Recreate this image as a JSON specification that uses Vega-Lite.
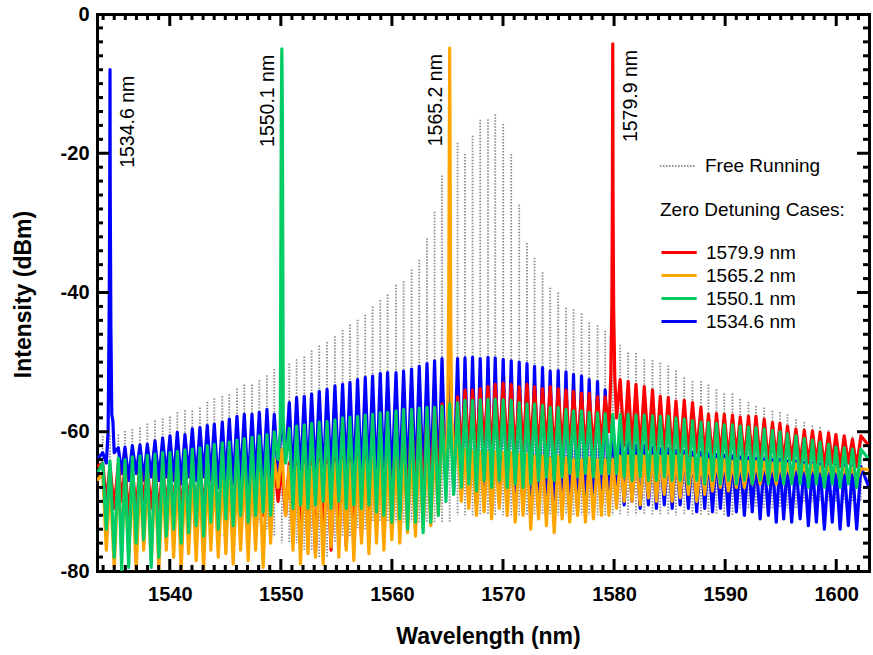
{
"$schema":"https://vega.github.io/schema/vega-lite/v6.json",
"width":772,"height":557,
"autosize":{"type":"none"},
"padding":{"left":97,"top":14,"right":4,"bottom":84},
"background":"white",
"config":{
"font":"Liberation Sans",
"view":{"stroke":null},
"axis":{"domainWidth":3,"domainColor":"#000","domainCap":"square","grid":false,"zindex":1,"labelFont":"Liberation Sans","titleFont":"Liberation Sans","labelOverlap":false,"labelFlush":false,"labelColor":"#000","titleColor":"#000"},
"legend":{"labelFont":"Liberation Sans","titleFont":"Liberation Sans","labelColor":"#000","titleColor":"#000","padding":0,"labelFontSize":19,"symbolSize":484,"rowPadding":0,"labelLimit":300,"titleLimit":400}
},
"resolve":{"axis":{"x":"independent","y":"independent"}},
"data":{"name":"spec"},
"datasets":{
"spec":[
{"x":1533.45,"b":-64,"r":-65,"o":-67,"g":-66},
{"x":1533.96,"f":-60.6,"fb":-68,"b":-63,"r":-64.5,"o":-66,"g":-64.5},
{"x":1534.29,"b":-64.5,"r":-70,"o":-77,"g":-74},
{"x":1534.45,"b":-60},
{"x":1534.55,"b":-42},
{"x":1534.60,"b":-25},
{"x":1534.62,"f":-60.5,"fb":-68,"b":-8,"r":-64.8,"o":-67,"g":-64.2},
{"x":1534.64,"b":-25},
{"x":1534.70,"b":-45},
{"x":1534.78,"b":-57.5},
{"x":1534.88,"b":-58.5},
{"x":1535.00,"b":-63,"r":-71,"o":-79.5,"g":-78},
{"x":1535.37,"f":-60.4,"fb":-70,"b":-62.3,"r":-64.5,"o":-66,"g":-63.8},
{"x":1535.67,"b":-66,"r":-70,"o":-76,"g":-79.8},
{"x":1535.97,"f":-59.9,"fb":-70,"b":-62.2,"r":-65,"o":-67,"g":-64},
{"x":1536.30,"b":-67,"r":-72,"o":-78,"g":-79.5},
{"x":1536.63,"f":-59.6,"fb":-70,"b":-62,"r":-65.5,"o":-66.5,"g":-63.6},
{"x":1536.98,"b":-66,"r":-71,"o":-80,"g":-76},
{"x":1537.32,"f":-59.4,"fb":-70,"b":-61.9,"r":-64.8,"o":-66,"g":-63.5},
{"x":1537.65,"b":-67,"r":-70,"o":-77,"g":-75.5},
{"x":1537.98,"f":-58.8,"fb":-70,"b":-61.8,"r":-65.2,"o":-66.8,"g":-63.4},
{"x":1538.33,"b":-66.5,"r":-71,"o":-78.5,"g":-79.5},
{"x":1538.67,"f":-58.4,"fb":-70,"b":-61.3,"r":-65,"o":-66,"g":-63.2},
{"x":1539.02,"b":-67,"r":-72,"o":-79.8,"g":-78},
{"x":1539.36,"f":-58.1,"fb":-70,"b":-60.9,"r":-64.6,"o":-66.5,"g":-63},
{"x":1539.69,"b":-66.5,"r":-71,"o":-77,"g":-75},
{"x":1540.02,"f":-57.8,"fb":-70,"b":-60.6,"r":-65,"o":-67,"g":-63},
{"x":1540.35,"b":-67,"r":-70.5,"o":-78,"g":-74},
{"x":1540.68,"f":-57.2,"fb":-70,"b":-60.1,"r":-64.8,"o":-66,"g":-62.8},
{"x":1541.03,"b":-67.5,"r":-71,"o":-79.8,"g":-76},
{"x":1541.37,"f":-56.9,"fb":-70,"b":-60.4,"r":-65.2,"o":-66.4,"g":-62.6},
{"x":1541.70,"b":-66.5,"r":-70,"o":-77.5,"g":-74.5},
{"x":1542.03,"f":-57,"fb":-70,"b":-59.6,"r":-65,"o":-66,"g":-62.5},
{"x":1542.38,"b":-67,"r":-71.5,"o":-78.5,"g":-73.5},
{"x":1542.72,"f":-56.5,"fb":-70,"b":-59.4,"r":-64.5,"o":-66.5,"g":-62.3},
{"x":1543.05,"b":-66.5,"r":-71,"o":-80,"g":-75},
{"x":1543.38,"f":-55.7,"fb":-70,"b":-59.1,"r":-65,"o":-65.8,"g":-62},
{"x":1543.70,"b":-67,"r":-70.5,"o":-77,"g":-73},
{"x":1544.01,"f":-55.2,"fb":-70,"b":-58.9,"r":-64.8,"o":-66,"g":-61.8},
{"x":1544.37,"b":-68,"r":-72,"o":-78,"g":-74},
{"x":1544.73,"f":-54.9,"fb":-70,"b":-58.6,"r":-65,"o":-66.2,"g":-61.6},
{"x":1545.05,"b":-67,"r":-71,"o":-77.5,"g":-72.5},
{"x":1545.36,"f":-54.6,"fb":-70,"b":-58.2,"r":-64.6,"o":-65.8,"g":-61.5},
{"x":1545.71,"b":-67.5,"r":-71.5,"o":-79,"g":-73.5},
{"x":1546.05,"f":-53.8,"fb":-71,"b":-57.8,"r":-65,"o":-66,"g":-61.2},
{"x":1546.38,"b":-67,"r":-71,"o":-77,"g":-72},
{"x":1546.71,"f":-53.2,"fb":-71,"b":-57.5,"r":-64.8,"o":-65.5,"g":-61},
{"x":1547.06,"b":-68,"r":-72,"o":-78.5,"g":-73},
{"x":1547.40,"f":-53.2,"fb":-72,"b":-57.5,"r":-64.5,"o":-66,"g":-60.8},
{"x":1547.73,"b":-67,"r":-71.5,"o":-77,"g":-72},
{"x":1548.06,"f":-52.6,"fb":-73,"b":-57.2,"r":-64.8,"o":-65.6,"g":-60.6},
{"x":1548.41,"b":-67.5,"r":-72,"o":-79.5,"g":-71.5},
{"x":1548.75,"f":-51.9,"fb":-74,"b":-56.8,"r":-64.2,"o":-65,"g":-60.4},
{"x":1549.08,"b":-67,"r":-71,"o":-76,"g":-72},
{"x":1549.41,"f":-51,"fb":-75,"b":-57.5,"r":-64,"o":-64,"g":-60},
{"x":1549.75,"b":-66,"r":-70,"o":-68,"g":-64},
{"x":1549.95,"g":-60},
{"x":1550.04,"g":-14.2},
{"x":1550.09,"f":-50.5,"fb":-76,"b":-57.5,"r":-65,"o":-62.5,"g":-5},
{"x":1550.14,"g":-14.2},
{"x":1550.22,"g":-58},
{"x":1550.30,"g":-61},
{"x":1550.43,"b":-64,"r":-72,"o":-72,"g":-64.5},
{"x":1550.76,"f":-50.2,"fb":-76,"b":-55.8,"r":-64.5,"o":-65,"g":-59.5},
{"x":1551.09,"b":-67,"r":-73,"o":-77,"g":-71},
{"x":1551.42,"f":-49.6,"fb":-76,"b":-55.1,"r":-64,"o":-65,"g":-59.2},
{"x":1551.77,"b":-66.5,"r":-74,"o":-79,"g":-70.5},
{"x":1552.11,"f":-49.2,"fb":-77,"b":-54.9,"r":-64.5,"o":-64.8,"g":-59},
{"x":1552.44,"b":-67,"r":-76,"o":-77.5,"g":-71},
{"x":1552.77,"f":-48.3,"fb":-77,"b":-54.6,"r":-64,"o":-65,"g":-58.8},
{"x":1553.12,"b":-66.5,"r":-77.5,"o":-78,"g":-70.5},
{"x":1553.46,"f":-47.6,"fb":-78,"b":-54.2,"r":-63.8,"o":-64.5,"g":-58.6},
{"x":1553.81,"b":-67,"r":-75,"o":-79,"g":-70},
{"x":1554.16,"f":-47.1,"fb":-78,"b":-53.9,"r":-63.5,"o":-64.8,"g":-58.5},
{"x":1554.52,"b":-66.5,"r":-77,"o":-76.5,"g":-71},
{"x":1554.87,"f":-46.3,"fb":-76,"b":-53.4,"r":-63.5,"o":-64.5,"g":-58.3},
{"x":1555.22,"b":-67,"r":-75.5,"o":-78,"g":-70},
{"x":1555.56,"f":-45.4,"fb":-75,"b":-53.2,"r":-63,"o":-64.2,"g":-58},
{"x":1555.89,"b":-66.5,"r":-76.5,"o":-77,"g":-71},
{"x":1556.22,"f":-44.6,"fb":-75,"b":-52.9,"r":-62.8,"o":-64.5,"g":-57.9},
{"x":1556.57,"b":-67,"r":-74,"o":-78.5,"g":-70.5},
{"x":1556.91,"f":-43.9,"fb":-74,"b":-52.5,"r":-62.5,"o":-64,"g":-57.8},
{"x":1557.26,"b":-67.5,"r":-75,"o":-76,"g":-71},
{"x":1557.60,"f":-43.2,"fb":-74,"b":-52.2,"r":-62,"o":-64.2,"g":-57.6},
{"x":1557.93,"b":-67,"r":-73,"o":-77.5,"g":-70.5},
{"x":1558.26,"f":-42,"fb":-73,"b":-52,"r":-61.5,"o":-63.8,"g":-57.5},
{"x":1558.61,"b":-67.5,"r":-72,"o":-76,"g":-71.5},
{"x":1558.95,"f":-41.1,"fb":-73,"b":-51.6,"r":-61,"o":-64,"g":-57.3},
{"x":1559.28,"b":-67,"r":-71.5,"o":-77,"g":-72},
{"x":1559.61,"f":-40.3,"fb":-73,"b":-51.5,"r":-60.5,"o":-63.5,"g":-57.2},
{"x":1559.99,"b":-67.5,"r":-71,"o":-75.5,"g":-73},
{"x":1560.37,"f":-38.9,"fb":-73,"b":-51.5,"r":-59.5,"o":-63.5,"g":-57},
{"x":1560.71,"b":-68,"r":-70,"o":-76,"g":-72.5},
{"x":1561.05,"f":-38.4,"fb":-73,"b":-51.3,"r":-58.8,"o":-63.2,"g":-56.8},
{"x":1561.41,"b":-67.5,"r":-70.5,"o":-74.5,"g":-74},
{"x":1561.77,"f":-36.7,"fb":-73,"b":-51,"r":-58,"o":-63,"g":-56.8},
{"x":1562.12,"b":-68,"r":-69.5,"o":-75,"g":-73},
{"x":1562.46,"f":-35.3,"fb":-73,"b":-50.6,"r":-57.5,"o":-62.8,"g":-56.6},
{"x":1562.81,"b":-67.5,"r":-70,"o":-74,"g":-74.5},
{"x":1563.16,"f":-32.2,"fb":-73,"b":-50.2,"r":-57.2,"o":-62.5,"g":-56.5},
{"x":1563.50,"b":-68,"r":-69,"o":-73.5,"g":-73},
{"x":1563.84,"f":-28.4,"fb":-73,"b":-49.8,"r":-56.5,"o":-62,"g":-56.5},
{"x":1564.18,"b":-68,"r":-68.5,"o":-72,"g":-72},
{"x":1564.51,"f":-23.2,"fb":-73,"b":-49.5,"r":-56,"o":-60,"g":-56.3},
{"x":1564.86,"b":-68,"r":-67,"o":-66,"g":-70},
{"x":1565.02,"o":-58},
{"x":1565.12,"o":-40},
{"x":1565.16,"o":-21},
{"x":1565.20,"f":-21,"fb":-73,"b":-50,"r":-56.5,"o":-4.9,"g":-56},
{"x":1565.24,"o":-21},
{"x":1565.30,"o":-45},
{"x":1565.38,"o":-58},
{"x":1565.56,"b":-68.5,"r":-66,"o":-64,"g":-69},
{"x":1565.91,"f":-18.5,"fb":-72,"b":-49.5,"r":-55,"o":-62,"g":-55.8},
{"x":1566.25,"b":-69,"r":-63,"o":-70,"g":-68},
{"x":1566.58,"f":-20.1,"fb":-72,"b":-49.4,"r":-54,"o":-62.5,"g":-55.5},
{"x":1566.92,"b":-69.5,"r":-62.5,"o":-71,"g":-67.5},
{"x":1567.26,"f":-17.5,"fb":-72,"b":-49.3,"r":-54,"o":-62.8,"g":-55.5},
{"x":1567.61,"b":-69,"r":-63,"o":-72,"g":-68.5},
{"x":1567.95,"f":-15.2,"fb":-72,"b":-49.5,"r":-53.8,"o":-63,"g":-55.4},
{"x":1568.30,"b":-70,"r":-62,"o":-71.5,"g":-67},
{"x":1568.65,"f":-15.1,"fb":-72,"b":-49.3,"r":-53.5,"o":-63,"g":-55.3},
{"x":1568.98,"b":-69.5,"r":-63.5,"o":-72.5,"g":-68},
{"x":1569.30,"f":-14.4,"fb":-72,"b":-49.4,"r":-53.2,"o":-62.8,"g":-55.3},
{"x":1569.66,"b":-70,"r":-62.5,"o":-71,"g":-67},
{"x":1570.02,"f":-15.8,"fb":-72,"b":-49.6,"r":-53,"o":-63,"g":-55.4},
{"x":1570.38,"b":-70.5,"r":-63,"o":-72,"g":-68},
{"x":1570.74,"f":-20.1,"fb":-72,"b":-49.8,"r":-53.2,"o":-63,"g":-55.5},
{"x":1571.10,"b":-71,"r":-63.5,"o":-73,"g":-67.5},
{"x":1571.46,"f":-27.4,"fb":-72,"b":-50,"r":-53.5,"o":-63.2,"g":-55.8},
{"x":1571.81,"b":-70.5,"r":-63,"o":-72,"g":-68},
{"x":1572.16,"f":-32.9,"fb":-72,"b":-50.2,"r":-53.2,"o":-63.2,"g":-56},
{"x":1572.50,"b":-71.5,"r":-62.5,"o":-74,"g":-67.5},
{"x":1572.84,"f":-35,"fb":-72,"b":-50.6,"r":-53.5,"o":-63.5,"g":-56},
{"x":1573.20,"b":-71,"r":-63,"o":-72.5,"g":-67},
{"x":1573.56,"f":-37.1,"fb":-72,"b":-50.8,"r":-53.8,"o":-63.5,"g":-56.2},
{"x":1573.91,"b":-70.5,"r":-62.5,"o":-73.5,"g":-66.5},
{"x":1574.25,"f":-39.3,"fb":-72,"b":-51.3,"r":-53.5,"o":-63.8,"g":-56.5},
{"x":1574.61,"b":-71,"r":-63.5,"o":-74.5,"g":-67},
{"x":1574.97,"f":-40,"fb":-72,"b":-51.2,"r":-53.8,"o":-63.5,"g":-56.5},
{"x":1575.32,"b":-71.5,"r":-62.5,"o":-72.5,"g":-66.5},
{"x":1575.67,"f":-42.2,"fb":-72,"b":-51.4,"r":-54,"o":-63.8,"g":-56.8},
{"x":1576.01,"b":-70.5,"r":-63,"o":-73,"g":-66},
{"x":1576.35,"f":-42.4,"fb":-72,"b":-51.8,"r":-54.2,"o":-64,"g":-57},
{"x":1576.71,"b":-71,"r":-62.5,"o":-72,"g":-66.5},
{"x":1577.07,"f":-43,"fb":-72,"b":-52,"r":-54.5,"o":-64,"g":-57},
{"x":1577.42,"b":-70.5,"r":-63,"o":-73,"g":-66},
{"x":1577.76,"f":-44.3,"fb":-72,"b":-52.5,"r":-54.5,"o":-63.8,"g":-57.2},
{"x":1578.14,"b":-71,"r":-62.5,"o":-72.5,"g":-66.5},
{"x":1578.51,"f":-44.7,"fb":-72,"b":-52.8,"r":-55,"o":-64,"g":-57.3},
{"x":1578.86,"b":-70.5,"r":-62,"o":-72,"g":-66},
{"x":1579.20,"f":-45.5,"fb":-72,"b":-54,"r":-55,"o":-64,"g":-57.4},
{"x":1579.54,"b":-70,"r":-60,"o":-72,"g":-66},
{"x":1579.70,"r":-52},
{"x":1579.80,"r":-42},
{"x":1579.85,"r":-27},
{"x":1579.88,"f":-46.5,"fb":-72,"b":-58,"r":-4.3,"o":-64,"g":-57.5},
{"x":1579.91,"r":-27},
{"x":1579.96,"r":-42},
{"x":1580.06,"r":-52},
{"x":1580.22,"b":-70,"r":-58,"o":-71,"g":-66},
{"x":1580.55,"f":-47.5,"fb":-72,"b":-61,"r":-52.5,"o":-63.5,"g":-57.5},
{"x":1580.91,"b":-70.5,"r":-62,"o":-70,"g":-66.5},
{"x":1581.27,"f":-48.6,"fb":-72,"b":-61.5,"r":-52.8,"o":-63.5,"g":-57.5},
{"x":1581.62,"b":-70,"r":-62.5,"o":-70,"g":-67},
{"x":1581.97,"f":-48.7,"fb":-72,"b":-62,"r":-53.2,"o":-63.5,"g":-57.6},
{"x":1582.35,"b":-71,"r":-63,"o":-70.5,"g":-66.5},
{"x":1582.72,"f":-49.6,"fb":-72,"b":-62,"r":-53.5,"o":-63.5,"g":-57.6},
{"x":1583.09,"b":-70.5,"r":-62.5,"o":-69.5,"g":-67},
{"x":1583.46,"f":-49.7,"fb":-72,"b":-62.3,"r":-54,"o":-63.5,"g":-57.7},
{"x":1583.81,"b":-71,"r":-63,"o":-70,"g":-67},
{"x":1584.16,"f":-50.1,"fb":-72,"b":-62.5,"r":-54.9,"o":-63.5,"g":-57.8},
{"x":1584.52,"b":-70.5,"r":-63,"o":-69,"g":-66.5},
{"x":1584.88,"f":-50.5,"fb":-72,"b":-62.5,"r":-55.1,"o":-63.5,"g":-57.8},
{"x":1585.23,"b":-71,"r":-63.5,"o":-70,"g":-67},
{"x":1585.57,"f":-51.2,"fb":-72,"b":-62.7,"r":-55.6,"o":-63.5,"g":-58},
{"x":1585.95,"b":-70.5,"r":-63,"o":-69.5,"g":-67},
{"x":1586.32,"f":-52.2,"fb":-72,"b":-62.8,"r":-55.5,"o":-63.5,"g":-58.2},
{"x":1586.69,"b":-71,"r":-63.5,"o":-69,"g":-67.5},
{"x":1587.06,"f":-52.7,"fb":-72,"b":-63,"r":-55.8,"o":-63.8,"g":-58.4},
{"x":1587.44,"b":-71.5,"r":-63,"o":-70,"g":-67},
{"x":1587.82,"f":-52.7,"fb":-72,"b":-63,"r":-56.5,"o":-63.8,"g":-58.6},
{"x":1588.16,"b":-71,"r":-63.5,"o":-69,"g":-67.5},
{"x":1588.50,"f":-53.2,"fb":-72,"b":-63.2,"r":-57.5,"o":-64,"g":-58.7},
{"x":1588.86,"b":-71.5,"r":-64,"o":-68.5,"g":-67},
{"x":1589.22,"f":-53.9,"fb":-72,"b":-63.3,"r":-57.4,"o":-64,"g":-58.8},
{"x":1589.57,"b":-71,"r":-63.5,"o":-68,"g":-67.5},
{"x":1589.92,"f":-54.5,"fb":-72,"b":-63.4,"r":-57.5,"o":-64,"g":-59},
{"x":1590.29,"b":-72,"r":-64,"o":-68.5,"g":-67},
{"x":1590.66,"f":-54.5,"fb":-72,"b":-63.5,"r":-57.6,"o":-64.2,"g":-59},
{"x":1591.01,"b":-71.5,"r":-63.5,"o":-68,"g":-67.5},
{"x":1591.36,"f":-55.3,"fb":-71,"b":-63.6,"r":-57.9,"o":-64.2,"g":-59.2},
{"x":1591.73,"b":-72,"r":-64,"o":-68,"g":-67},
{"x":1592.10,"f":-55.7,"fb":-71,"b":-63.7,"r":-57.8,"o":-64.3,"g":-59.3},
{"x":1592.44,"b":-71.5,"r":-64,"o":-67.5,"g":-67.5},
{"x":1592.77,"f":-56.3,"fb":-71,"b":-63.8,"r":-57.8,"o":-64.3,"g":-59.4},
{"x":1593.15,"b":-72.5,"r":-64,"o":-67.5,"g":-67},
{"x":1593.52,"f":-56.5,"fb":-71,"b":-63.9,"r":-58.2,"o":-64.4,"g":-59.6},
{"x":1593.89,"b":-72,"r":-64.5,"o":-67,"g":-67.5},
{"x":1594.26,"f":-57,"fb":-71,"b":-64,"r":-58.7,"o":-64.5,"g":-59.8},
{"x":1594.60,"b":-73,"r":-64,"o":-67.5,"g":-67},
{"x":1594.93,"f":-57.2,"fb":-71,"b":-64,"r":-58.8,"o":-64.5,"g":-60},
{"x":1595.27,"b":-72.5,"r":-64.5,"o":-67,"g":-67.5},
{"x":1595.61,"f":-57.5,"fb":-71,"b":-64.2,"r":-59.2,"o":-64.6,"g":-60.3},
{"x":1595.99,"b":-73,"r":-64,"o":-67,"g":-67.5},
{"x":1596.37,"f":-58.2,"fb":-71,"b":-64.3,"r":-59.6,"o":-64.6,"g":-60.6},
{"x":1596.75,"b":-72.5,"r":-64.5,"o":-66.5,"g":-67.5},
{"x":1597.12,"f":-58.6,"fb":-70,"b":-64.4,"r":-59.8,"o":-64.8,"g":-61},
{"x":1597.49,"b":-73.5,"r":-64.5,"o":-67,"g":-68},
{"x":1597.86,"f":-59.1,"fb":-70,"b":-64.5,"r":-59.9,"o":-64.8,"g":-61.2},
{"x":1598.21,"b":-73,"r":-64.5,"o":-66.5,"g":-67.5},
{"x":1598.55,"f":-59.3,"fb":-70,"b":-64.6,"r":-60.1,"o":-65,"g":-61.5},
{"x":1598.93,"b":-74,"r":-65,"o":-67,"g":-68},
{"x":1599.31,"f":-59.8,"fb":-70,"b":-64.7,"r":-60.2,"o":-65,"g":-61.8},
{"x":1599.64,"b":-73,"r":-64.5,"o":-66.5,"g":-67.5},
{"x":1599.97,"f":-60.3,"fb":-70,"b":-64.8,"r":-60.4,"o":-65,"g":-62.2},
{"x":1600.35,"b":-74,"r":-65,"o":-67,"g":-68},
{"x":1600.72,"f":-60.5,"fb":-70,"b":-64.9,"r":-60.6,"o":-65.2,"g":-62.3},
{"x":1601.09,"b":-73.5,"r":-64.5,"o":-66.5,"g":-67.5},
{"x":1601.46,"f":-60.7,"fb":-70,"b":-65,"r":-61.1,"o":-65.2,"g":-62.5},
{"x":1601.84,"b":-74,"r":-65,"o":-67,"g":-68},
{"x":1602.22,"f":-61,"fb":-70,"b":-65,"r":-60.6,"o":-65.3,"g":-62.5},
{"x":1602.95,"b":-68,"r":-62,"o":-65.5,"g":-64}
]},
"layer":[
{
"transform":[{"filter":"isValid(datum.f)"}],
"mark":{"type":"rule","color":"#8C8C8C","strokeWidth":1.8,"clip":true},
"encoding":{
"x":{"field":"x","type":"quantitative","scale":{"domain":[1533.45,1602.95],"nice":false,"zero":false},"axis":null},
"y":{"field":"f","type":"quantitative","scale":{"domain":[-80,0],"nice":false,"zero":false},"axis":null},
"y2":{"field":"fb"},
"strokeDash":{"datum":"Free Running","type":"nominal","scale":{"range":[[1.5,1.5]]},
"legend":{"orient":"none","legendX":562,"legendY":140,"title":null,"symbolType":"M-1,0H2.2","symbolSize":484,"symbolStrokeWidth":2,"symbolStrokeColor":"#8C8C8C","labelOffset":22}}
}
},
{
"transform":[{"fold":["b"],"as":["s","y"]},{"filter":"isValid(datum.y)"}],
"mark":{"type":"line","strokeWidth":3.2,"clip":true,"strokeJoin":"round"},
"encoding":{
"x":{"field":"x","type":"quantitative","axis":null},
"y":{"field":"y","type":"quantitative","axis":null},
"color":{"field":"s","type":"nominal","scale":{"domain":["r","o","g","b"],"range":["#FF0000","#FFA500","#00CC66","#0000FF"]},
"legend":{"orient":"none","legendX":563,"legendY":187,"title":"Zero Detuning Cases:","titleFontSize":19,"titleFontWeight":"normal","titlePadding":20,"symbolType":"M-1,0H2.2","symbolSize":484,"symbolStrokeWidth":3,"labelOffset":21,"labelFontSize":19,"rowPadding":0,
"labelExpr":"datum.value == 'r' ? '1579.9 nm' : datum.value == 'o' ? '1565.2 nm' : datum.value == 'g' ? '1550.1 nm' : '1534.6 nm'"}}
}
},
{
"transform":[{"fold":["r"],"as":["s","y"]},{"filter":"isValid(datum.y)"}],
"mark":{"type":"line","strokeWidth":3.2,"clip":true,"strokeJoin":"round"},
"encoding":{"x":{"field":"x","type":"quantitative","axis":null},"y":{"field":"y","type":"quantitative","axis":null},"color":{"field":"s","type":"nominal","legend":null}}
},
{
"transform":[{"fold":["o"],"as":["s","y"]},{"filter":"isValid(datum.y)"}],
"mark":{"type":"line","strokeWidth":3.2,"clip":true,"strokeJoin":"round"},
"encoding":{"x":{"field":"x","type":"quantitative","axis":null},"y":{"field":"y","type":"quantitative","axis":null},"color":{"field":"s","type":"nominal","legend":null}}
},
{
"transform":[{"fold":["g"],"as":["s","y"]},{"filter":"isValid(datum.y)"}],
"mark":{"type":"line","strokeWidth":3.2,"clip":true,"strokeJoin":"round"},
"encoding":{
"x":{"field":"x","type":"quantitative","axis":{"orient":"bottom","values":[1540,1550,1560,1570,1580,1590,1600],"ticks":false,"tickSize":0,"domain":true,
"labelExpr":"'' + datum.value","labelPadding":13,"labelFontSize":20,"labelFontWeight":"bold",
"title":"Wavelength (nm)","titleFontSize":23,"titleFontWeight":"bold","titleX":391,"titleY":65,"titleBaseline":"middle"}},
"y":{"field":"y","type":"quantitative","axis":{"orient":"left","values":[-80,-60,-40,-20,0],"ticks":false,"tickSize":0,"domain":true,
"labelExpr":"'' + datum.value","labelPadding":8,"labelFontSize":20,"labelFontWeight":"bold",
"title":"Intensity (dBm)","titleFontSize":23,"titleFontWeight":"bold","titleX":-74,"titleY":280,"titleBaseline":"middle"}},
"color":{"field":"s","type":"nominal","legend":null}}
},
{
"data":{"values":[{"v":1540},{"v":1550},{"v":1560},{"v":1570},{"v":1580},{"v":1590},{"v":1600}]},
"layer":[
{"mark":{"type":"tick","orient":"vertical","color":"black","size":24,"thickness":3,"clip":true,"opacity":1},
"encoding":{"x":{"field":"v","type":"quantitative","axis":null},"y":{"datum":-80,"type":"quantitative","axis":null}}},
{"mark":{"type":"tick","orient":"vertical","color":"black","size":24,"thickness":3,"clip":true,"opacity":1},
"encoding":{"x":{"field":"v","type":"quantitative","axis":null},"y":{"datum":0,"type":"quantitative","axis":null}}}
]
},
{
"data":{"values":[{"v":1534},{"v":1535},{"v":1536},{"v":1537},{"v":1538},{"v":1539},{"v":1541},{"v":1542},{"v":1543},{"v":1544},{"v":1545},{"v":1546},{"v":1547},{"v":1548},{"v":1549},{"v":1551},{"v":1552},{"v":1553},{"v":1554},{"v":1555},{"v":1556},{"v":1557},{"v":1558},{"v":1559},{"v":1561},{"v":1562},{"v":1563},{"v":1564},{"v":1565},{"v":1566},{"v":1567},{"v":1568},{"v":1569},{"v":1571},{"v":1572},{"v":1573},{"v":1574},{"v":1575},{"v":1576},{"v":1577},{"v":1578},{"v":1579},{"v":1581},{"v":1582},{"v":1583},{"v":1584},{"v":1585},{"v":1586},{"v":1587},{"v":1588},{"v":1589},{"v":1591},{"v":1592},{"v":1593},{"v":1594},{"v":1595},{"v":1596},{"v":1597},{"v":1598},{"v":1599},{"v":1601},{"v":1602}]},
"layer":[
{"mark":{"type":"tick","orient":"vertical","color":"black","size":12,"thickness":3,"clip":true,"opacity":1},
"encoding":{"x":{"field":"v","type":"quantitative","axis":null},"y":{"datum":-80,"type":"quantitative","axis":null}}},
{"mark":{"type":"tick","orient":"vertical","color":"black","size":12,"thickness":3,"clip":true,"opacity":1},
"encoding":{"x":{"field":"v","type":"quantitative","axis":null},"y":{"datum":0,"type":"quantitative","axis":null}}}
]
},
{
"data":{"values":[{"v":-60},{"v":-40},{"v":-20}]},
"layer":[
{"mark":{"type":"tick","orient":"horizontal","color":"black","size":24,"thickness":3,"clip":true,"opacity":1},
"encoding":{"y":{"field":"v","type":"quantitative","axis":null},"x":{"datum":1533.45,"type":"quantitative","axis":null}}},
{"mark":{"type":"tick","orient":"horizontal","color":"black","size":24,"thickness":3,"clip":true,"opacity":1},
"encoding":{"y":{"field":"v","type":"quantitative","axis":null},"x":{"datum":1602.95,"type":"quantitative","axis":null}}}
]
},
{
"data":{"values":[{"v":-78},{"v":-76},{"v":-74},{"v":-72},{"v":-70},{"v":-68},{"v":-66},{"v":-64},{"v":-62},{"v":-58},{"v":-56},{"v":-54},{"v":-52},{"v":-50},{"v":-48},{"v":-46},{"v":-44},{"v":-42},{"v":-38},{"v":-36},{"v":-34},{"v":-32},{"v":-30},{"v":-28},{"v":-26},{"v":-24},{"v":-22},{"v":-18},{"v":-16},{"v":-14},{"v":-12},{"v":-10},{"v":-8},{"v":-6},{"v":-4},{"v":-2}]},
"layer":[
{"mark":{"type":"tick","orient":"horizontal","color":"black","size":12,"thickness":3,"clip":true,"opacity":1},
"encoding":{"y":{"field":"v","type":"quantitative","axis":null},"x":{"datum":1533.45,"type":"quantitative","axis":null}}},
{"mark":{"type":"tick","orient":"horizontal","color":"black","size":12,"thickness":3,"clip":true,"opacity":1},
"encoding":{"y":{"field":"v","type":"quantitative","axis":null},"x":{"datum":1602.95,"type":"quantitative","axis":null}}}
]
},
{
"data":{"values":[{"x":1534.62,"y":-8,"t":"1534.6 nm"},{"x":1579.88,"y":-4.3,"t":"1579.9 nm"}]},
"mark":{"type":"text","angle":270,"align":"right","baseline":"middle","dx":-6,"dy":18,"fontSize":19.5,"font":"Liberation Sans","color":"#000"},
"encoding":{
"x":{"field":"x","type":"quantitative","axis":{"orient":"top","ticks":false,"tickSize":0,"labels":false,"domain":true,"title":null}},
"y":{"field":"y","type":"quantitative","axis":{"orient":"right","ticks":false,"tickSize":0,"labels":false,"domain":true,"title":null}},
"text":{"field":"t"}}
},
{
"data":{"values":[{"x":1550.09,"y":-5,"t":"1550.1 nm"},{"x":1565.2,"y":-4.9,"t":"1565.2 nm"}]},
"mark":{"type":"text","angle":270,"align":"right","baseline":"middle","dx":-6,"dy":-14,"fontSize":19.5,"font":"Liberation Sans","color":"#000"},
"encoding":{"x":{"field":"x","type":"quantitative","axis":null},"y":{"field":"y","type":"quantitative","axis":null},"text":{"field":"t"}}
}
]
}
